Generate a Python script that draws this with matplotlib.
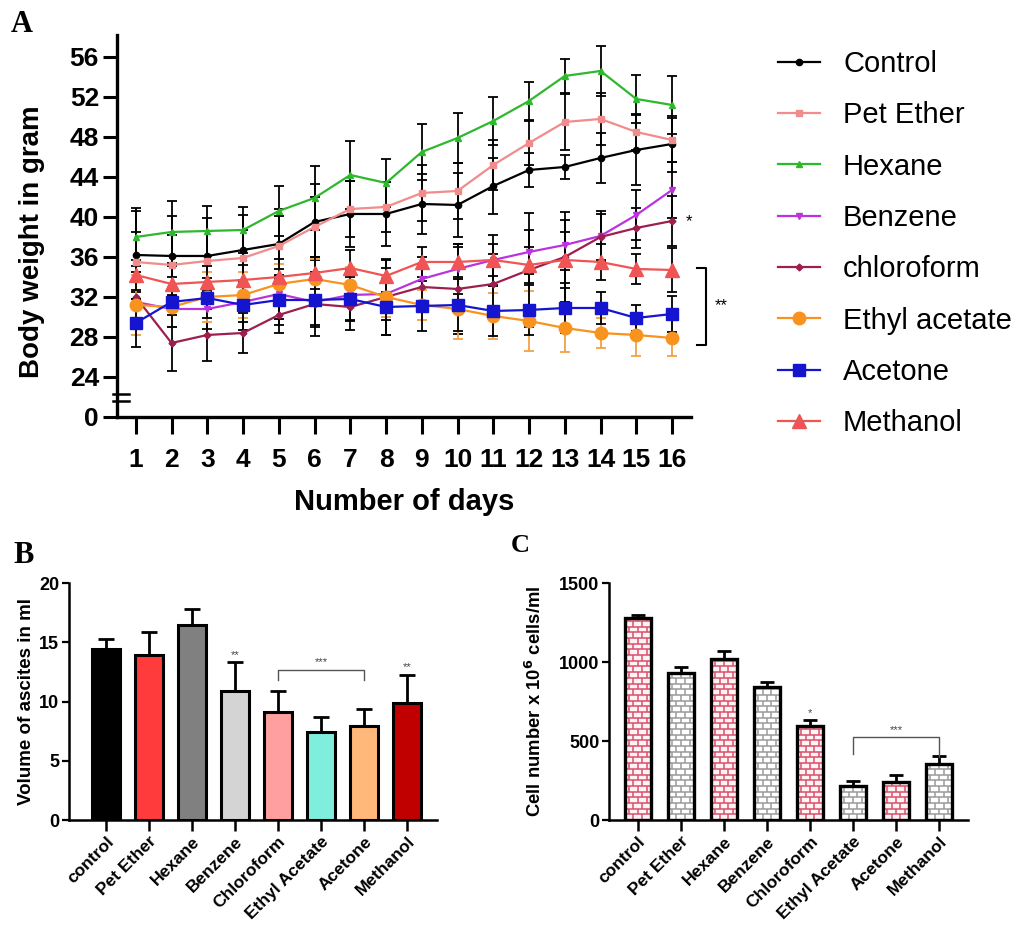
import numpy as np
import matplotlib.pyplot as plt
from matplotlib.transforms import blended_transform_factory

plt.rcParams['font.family'] = ['Liberation Sans', 'DejaVu Sans']

# ---- panel A: body weight over 16 days ----
days = np.arange(1, 17)

control = [36.2, 36.1, 36.1, 36.7, 37.3, 39.5, 40.3, 40.3, 41.3, 41.2, 43.1, 44.7, 45.0, 45.9, 46.7, 47.3]
pet_ether = [35.5, 35.2, 35.6, 35.9, 37.1, 39.0, 40.8, 41.0, 42.4, 42.6, 45.2, 47.4, 49.5, 49.8, 48.5, 47.7]
hexane = [38.0, 38.5, 38.6, 38.7, 40.6, 41.9, 44.2, 43.4, 46.5, 47.9, 49.6, 51.6, 54.1, 54.6, 51.8, 51.2]
benzene = [31.5, 30.8, 30.8, 31.5, 32.3, 31.5, 32.2, 32.3, 33.8, 34.8, 35.7, 36.5, 37.2, 38.1, 40.2, 42.7]
chloroform = [32.0, 27.4, 28.2, 28.4, 30.2, 31.3, 31.0, 32.0, 33.0, 32.8, 33.3, 34.7, 36.0, 38.0, 38.9, 39.6]
ethyl_acetate = [31.2, 31.0, 32.0, 32.2, 33.3, 33.8, 33.2, 32.0, 31.2, 30.8, 30.1, 29.6, 28.9, 28.4, 28.2, 27.9]
acetone = [29.4, 31.5, 31.9, 31.2, 31.7, 31.7, 31.8, 31.0, 31.1, 31.2, 30.6, 30.7, 30.9, 30.9, 29.9, 30.3]
methanol = [34.2, 33.3, 33.5, 33.7, 34.0, 34.4, 34.9, 34.1, 35.5, 35.5, 35.7, 35.2, 35.7, 35.5, 34.8, 34.7]

err_control = [4.4, 4.0, 3.8, 3.5, 3.5, 3.8, 3.3, 3.2, 3.0, 3.2, 2.8, 1.7, 1.2, 2.5, 3.5, 2.8]
err_pet_ether = [3.0, 3.0, 3.0, 2.8, 3.0, 3.0, 2.8, 2.5, 2.8, 2.8, 2.5, 2.2, 2.8, 2.6, 1.8, 2.2]
err_hexane = [2.9, 3.1, 2.5, 2.3, 2.5, 3.2, 3.4, 2.4, 2.8, 2.5, 2.4, 1.9, 1.7, 2.5, 2.4, 2.9]
err_benzene = [2.0, 1.8, 2.0, 2.0, 2.5, 2.5, 2.5, 2.6, 2.2, 2.5, 2.5, 2.2, 2.5, 2.5, 2.5, 2.8]
err_chloroform = [2.5, 2.8, 2.6, 2.0, 1.8, 3.2, 2.3, 3.8, 2.2, 4.5, 3.0, 5.7, 4.5, 2.3, 2.0, 2.5]
err_ethyl_acetate = [3.0, 2.0, 2.5, 2.3, 2.0, 2.0, 1.8, 2.0, 1.5, 3.0, 2.3, 3.0, 2.4, 1.5, 2.1, 1.8]
err_acetone = [2.4, 2.5, 2.0, 2.5, 2.5, 2.5, 2.2, 2.8, 2.5, 2.6, 2.5, 2.5, 2.5, 1.6, 1.3, 1.8]
err_methanol = [1.5, 1.8, 1.6, 1.5, 1.8, 1.6, 1.8, 1.6, 1.5, 1.5, 1.6, 1.8, 2.8, 1.8, 1.5, 2.2]

# ---- panels B and C ----
groups = ['control', 'Pet Ether', 'Hexane', 'Benzene', 'Chloroform',
          'Ethyl Acetate', 'Acetone', 'Methanol']
ascites = [14.45, 13.9, 16.45, 10.9, 9.15, 7.4, 7.9, 9.9]
ascites_err = [0.85, 2.0, 1.35, 2.4, 1.7, 1.3, 1.5, 2.3]
cells = [1278, 930, 1020, 841, 592, 218, 239, 355]
cells_err = [19, 36, 51, 32, 42, 31, 46, 51]

series = [
    ('Control', control, err_control, 'black', 'o', 4.5, 'black'),
    ('Pet Ether', pet_ether, err_pet_ether, '#f08c8c', 's', 5, 'black'),
    ('Hexane', hexane, err_hexane, '#2db82d', '^', 5, 'black'),
    ('Benzene', benzene, err_benzene, '#bb33dd', 'v', 5, 'black'),
    ('chloroform', chloroform, err_chloroform, '#9c1f4f', 'D', 3.5, 'black'),
    ('Ethyl acetate', ethyl_acetate, err_ethyl_acetate, '#f7931e', 'o', 9, '#f2a144'),
    ('Acetone', acetone, err_acetone, '#1515d0', 's', 8, 'black'),
    ('Methanol', methanol, err_methanol, '#f05454', '^', 9.5, 'black'),
]

fig = plt.figure(figsize=(10.24, 9.25), dpi=100)

# panel A
axA = fig.add_axes([0.1143, 0.5492, 0.5605, 0.4130])
for name, vals, err, col, mk, ms, ecol in series:
    axA.errorbar(days, vals, yerr=err, fmt='none', ecolor=ecol, elinewidth=1.3,
                 capsize=3.5, capthick=1.3, zorder=2)
for name, vals, err, col, mk, ms, ecol in series:
    axA.plot(days, vals, color=col, marker=mk, ms=ms, lw=1.6, label=name, zorder=3)

axA.set_xlim(0.476, 16.53)
axA.set_ylim(20, 58.2)
axA.set_xticks(days)
axA.set_yticks(np.arange(20, 57, 4))
axA.set_yticklabels(['0'] + [str(v) for v in range(24, 57, 4)])
for s in ['top', 'right']:
    axA.spines[s].set_visible(False)
for s in ['left', 'bottom']:
    axA.spines[s].set_linewidth(2.4)
axA.tick_params(axis='y', length=10, width=2.2, pad=3, labelsize=19)
axA.tick_params(axis='x', length=12, width=2.2, pad=10, labelsize=19)
for lab in axA.get_xticklabels() + axA.get_yticklabels():
    lab.set_fontweight('bold')
axA.set_ylabel('Body weight in gram', fontsize=20, fontweight='bold')
axA.yaxis.set_label_coords(-0.125, 0.46)
axA.set_xlabel('Number of days', fontsize=21, fontweight='bold')
axA.xaxis.set_label_coords(0.5, -0.186)

# axis break marks
tb = blended_transform_factory(axA.transAxes, axA.transData)
for yb in [22.3, 21.6]:
    axA.plot([-0.007, 0.021], [yb, yb], color='black', lw=1.8, transform=tb, clip_on=False)

# significance marks
axA.text(16.48, 39.5, '*', fontsize=12, ha='center', va='center')
axA.plot([16.7, 16.95, 16.95, 16.7], [34.87, 34.87, 27.17, 27.17], color='black',
         lw=1.5, clip_on=False)
axA.text(17.37, 31.1, '**', fontsize=12, ha='center', va='center')

leg = axA.legend(loc='upper left', bbox_to_anchor=(778 / 1024, 1 - 50 / 925),
                 bbox_transform=fig.transFigure, frameon=False, fontsize=21,
                 handlelength=1.43, handletextpad=0.8, labelspacing=0.8,
                 borderpad=0, borderaxespad=0)

# panel B
axB = fig.add_axes([0.0674, 0.1135, 0.3594, 0.2562])
colsB = ['black', '#ff3b3b', '#808080', '#d4d4d4', '#ff9f9f', '#80eedd', '#ffb87a', '#c00000']
xB = np.arange(len(groups))
axB.bar(xB, ascites, width=0.64, color=colsB, edgecolor='black', linewidth=2.2, zorder=3)
axB.errorbar(xB, ascites, yerr=[np.zeros(len(xB)), ascites_err], fmt='none', ecolor='black',
             elinewidth=2, capsize=6, capthick=2, zorder=2)
axB.set_xlim(-0.86, 7.7)
axB.set_ylim(0, 20)
axB.set_yticks([0, 5, 10, 15, 20])
axB.set_xticks(xB)
axB.set_xticklabels(groups)
axB.set_ylabel('Volume of ascites in ml', fontsize=13.5, fontweight='bold')
axB.yaxis.set_label_coords(-0.092, 0.5)
axB.text(3, 13.9, '**', fontsize=8, ha='center', va='center', color='#444444')
axB.text(7, 12.9, '**', fontsize=8, ha='center', va='center', color='#444444')
axB.plot([4, 4, 6, 6], [11.8, 12.7, 12.7, 11.8], color='#555555', lw=1)
axB.text(5, 13.3, '***', fontsize=8, ha='center', va='center', color='#444444')

# panel C
axC = fig.add_axes([0.5947, 0.1135, 0.3506, 0.2562])
xC = np.arange(len(groups))
wC = 0.61
brick_cols = ['#d9506a', '#9a9a9a'] * 4
fill_cols = ['#fff3f5', 'white'] * 4
axC.bar(xC, cells, width=wC, color=fill_cols, edgecolor='none', zorder=1)
row_h = 36
for xi, h, bc in zip(xC, cells, brick_cols):
    left = xi - wC / 2
    bw = wC / 3
    axC.hlines(np.arange(row_h, h, row_h), left, left + wC, colors=bc, lw=1.1, zorder=2)
    k = 0
    y0 = 0
    while y0 < h:
        y1 = min(y0 + row_h, h)
        off = 0 if k % 2 == 0 else bw / 2
        xs = left + off + bw * np.arange(0, 4)
        xs = xs[(xs > left + 0.01) & (xs < left + wC - 0.01)]
        axC.vlines(xs, y0, y1, colors=bc, lw=1.1, zorder=2)
        y0 += row_h
        k += 1
axC.bar(xC, cells, width=wC, fill=False, edgecolor='black', linewidth=2.4, zorder=3)
axC.errorbar(xC, cells, yerr=[np.zeros(len(xC)), cells_err], fmt='none', ecolor='black',
             elinewidth=2, capsize=5, capthick=2, zorder=2)
axC.set_xlim(-0.67, 7.67)
axC.set_ylim(0, 1500)
axC.set_yticks([0, 500, 1000, 1500])
axC.set_xticks(xC)
axC.set_xticklabels(groups)
axC.set_ylabel('Cell number x 10$^\\mathbf{6}$ cells/ml', fontsize=13.3, fontweight='bold')
axC.yaxis.set_label_coords(-0.178, 0.5)
axC.text(4, 680, '*', fontsize=8, ha='center', va='center', color='#444444')
axC.plot([5, 5, 7, 7], [418, 528, 528, 400], color='#555555', lw=1)
axC.text(6, 570, '***', fontsize=8, ha='center', va='center', color='#444444')

for ax in [axB, axC]:
    for s in ['top', 'right']:
        ax.spines[s].set_visible(False)
    for s in ['left', 'bottom']:
        ax.spines[s].set_linewidth(1.8)
    ax.tick_params(axis='y', length=5, width=1.6, pad=2, labelsize=13)
    ax.tick_params(axis='x', length=8, width=1.8, pad=2, labelsize=12.5)
    for lab in ax.get_xticklabels() + ax.get_yticklabels():
        lab.set_fontweight('bold')
    plt.setp(ax.get_xticklabels(), rotation=45, ha='right', rotation_mode='anchor')

# panel letters
for letter, px, py, fs in [('A', 11, 32, 22), ('B', 13, 563, 22), ('C', 511, 552, 19)]:
    fig.text(px / 1024, 1 - py / 925, letter, fontsize=fs, fontweight='bold',
             family=['Liberation Serif', 'DejaVu Serif'], va='baseline', ha='left')

fig.savefig('out.png', dpi=100)
